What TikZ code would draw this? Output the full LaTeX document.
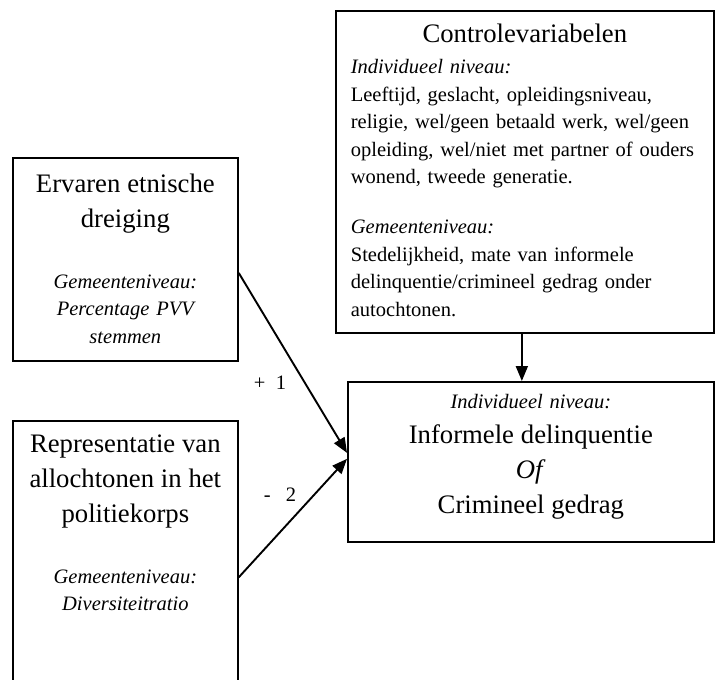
\documentclass[tikz,border=0pt]{standalone}
\usepackage{fontspec}
\setmainfont{Liberation Serif}
\usepackage{tikz}
\usetikzlibrary{arrows.meta}
\hyphenpenalty=10000

\begin{document}
\begin{tikzpicture}[x=1pt, y=-1pt,
    kader/.style={draw, line width=1.7pt, inner ysep=0pt, anchor=north west,
        font=\fontsize{20.5pt}{27.5pt}\selectfont},
    pijl/.style={-{Triangle[length=15pt,width=12pt]}, line width=1.9pt}]
        \useasboundingbox (0,0) rectangle (715,680);
        \clip (0,0) rectangle (715,680);

        \node[kader, align=left, inner xsep=15pt, text width=348pt,
              text height=32pt, text depth=290pt] (ctrl) at (335,10) {%
            {\centering\fontsize{26.7pt}{35pt}\selectfont Controlevariabelen\par}
            \vspace{3.5pt}
            {\itshape Individueel niveau:\par}
            Leeftijd, geslacht, opleidingsniveau,\\
            religie, wel/geen betaald werk, wel/geen\\
            opleiding, wel/niet met partner of ouders\\
            wonend, tweede generatie.\par
            \vspace{22.5pt}
            {\itshape Gemeenteniveau:\par}
            Stedelijkheid, mate van informele\\
            delinquentie/crimineel gedrag onder\\
            autochtonen.};

        \node[kader, align=center, inner xsep=6pt, text width=213pt,
              text height=35pt, text depth=168pt] (erv) at (12,157) {%
            {\fontsize{26.7pt}{35pt}\selectfont Ervaren etnische\\ dreiging\par}
            \vspace{33pt}
            {\itshape Gemeenteniveau:\\ Percentage PVV\\ stemmen\par}};

        \node[kader, align=center, inner xsep=6pt, text width=213pt,
              text height=32pt, text depth=248pt] (rep) at (12,420) {%
            {\fontsize{26.7pt}{35pt}\selectfont Representatie van\\ allochtonen in het\\ politiekorps\par}
            \vspace{33pt}
            {\itshape Gemeenteniveau:\\ Diversiteitratio\par}};

        \node[kader, align=center, inner xsep=6pt, text width=354pt,
              text height=27pt, text depth=133pt] (uitk) at (347,381) {%
            {\itshape Individueel niveau:\par}
            {\fontsize{26.7pt}{35pt}\selectfont Informele delinquentie\\ \textit{Of}\\ Crimineel gedrag\par}};

        \node[font=\fontsize{20.5pt}{25pt}\selectfont] (plus) at (270,383) {+\ \ 1};
        \node[font=\fontsize{20.5pt}{25pt}\selectfont] (min) at (280,495) {-\ \ \ 2};

        \draw[pijl] ([xshift=-3pt]ctrl.south) -- ([xshift=-3pt]ctrl.south |- uitk.north);
        \draw[pijl] ([yshift=-13.5pt]erv.east) -- ([yshift=9pt]uitk.west);
        \draw[pijl] ([yshift=-16.5pt]rep.east) -- ([yshift=3pt]uitk.west);
    \end{tikzpicture}
\end{document}
